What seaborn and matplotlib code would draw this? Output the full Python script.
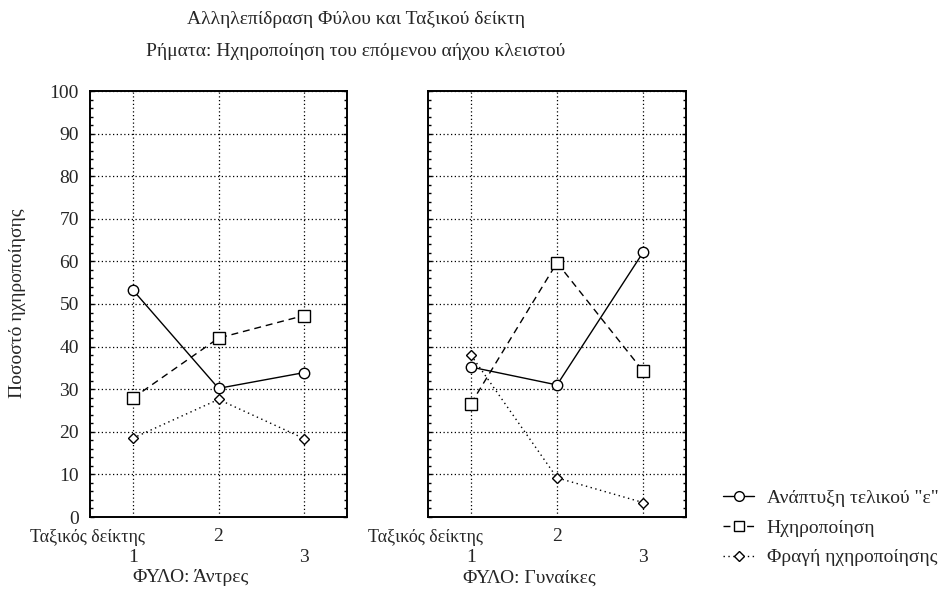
import matplotlib
matplotlib.use("Agg")
import matplotlib.pyplot as plt
from matplotlib.lines import Line2D
from matplotlib.ticker import MultipleLocator, FixedLocator
import pandas as pd
import seaborn as sns

# Class index positions and percentage values per gender
classes = [1, 2, 3]
class_tick_labels = ["1", "2", "3"]
series_names = ['Ανάπτυξη τελικού "ε"', "Ηχηροποίηση", "Φραγή ηχηροποίησης"]

men_epenthesis = [53.3, 30.2, 33.9]
men_voicing = [27.9, 42.0, 47.3]
men_blocking = [18.5, 27.6, 18.4]

women_epenthesis = [35.2, 31.0, 62.1]
women_voicing = [26.6, 59.7, 34.3]
women_blocking = [38.0, 9.2, 3.4]

panel_titles = ["ΦΥΛΟ: Άντρες", "ΦΥΛΟ: Γυναίκες"]
axis_caption = "Ταξικός δείκτης"

sns.set_theme(style="white")
plt.rcParams["font.family"] = ["Liberation Serif", "DejaVu Serif"]
FS = 14

styles = [
    dict(marker="o", linestyle="-", ms=7.5),
    dict(marker="s", linestyle=(0, (5, 3.5)), ms=8),
    dict(marker="D", linestyle=(0, (1, 2.5)), ms=5.5),
]

panels = [
    [men_epenthesis, men_voicing, men_blocking],
    [women_epenthesis, women_voicing, women_blocking],
]

fig = plt.figure(figsize=(9.39, 5.89), dpi=100)
W, H = 939, 589
axes_px = [(90, 91, 347, 517), (428, 91, 686, 517)]

for i, (box, values) in enumerate(zip(axes_px, panels)):
    x0, y0, x1, y1 = box
    ax = fig.add_axes([x0 / W, 1 - y1 / H, (x1 - x0) / W, (y1 - y0) / H])
    for name, vals, st in zip(series_names, values, styles):
        df = pd.DataFrame({"class": classes, "pct": vals})
        sns.lineplot(data=df, x="class", y="pct", ax=ax, color="black",
                     marker=st["marker"], linestyle=st["linestyle"],
                     markersize=st["ms"], markerfacecolor="white",
                     markeredgecolor="black", markeredgewidth=1.0,
                     linewidth=1.0, legend=False, zorder=3)
    ax.set_xlim(0.5, 3.5)
    ax.set_ylim(0, 100)
    ax.yaxis.set_major_locator(MultipleLocator(10))
    ax.yaxis.set_minor_locator(MultipleLocator(2))
    # staggered class labels: odd classes on the lower row, the middle one above
    ax.xaxis.set_major_locator(FixedLocator([classes[0], classes[2]]))
    ax.set_xticklabels([class_tick_labels[0], class_tick_labels[2]])
    ax.xaxis.set_minor_locator(FixedLocator([classes[1]]))
    ax.set_xticklabels([class_tick_labels[1]], minor=True)
    ax.tick_params(axis="x", which="major", length=0, pad=23, labelsize=FS)
    ax.tick_params(axis="x", which="minor", length=0, pad=8, labelsize=FS)
    ax.tick_params(axis="y", which="both", direction="in", left=True, right=True,
                   length=3, width=1, color="black", labelsize=FS, pad=8)
    ax.tick_params(axis="y", which="minor", length=2.5)
    if i == 1:
        ax.tick_params(axis="y", labelleft=False)
    ax.grid(True, which="both", axis="x", color="black", linestyle=(0, (1, 2)),
            linewidth=0.9)
    ax.grid(True, which="major", axis="y", color="black", linestyle=(0, (1, 2)),
            linewidth=0.9)
    for s in ax.spines.values():
        s.set_visible(True)
        s.set_color("black")
        s.set_linewidth(1.4)
    ax.set_xlabel("")
    ax.set_ylabel("")
    # class-index caption to the left of the first tick, and the panel label below
    fig.text((x0 + 55) / W, 1 - 537 / H, axis_caption, ha="right", va="center",
             fontsize=13)
    fig.text((x0 + 101) / W, 1 - 578 / H, panel_titles[i], ha="center",
             va="center", fontsize=FS)

fig.text(18 / W, 1 - 303 / H, "Ποσοστό ηχηροποίησης", rotation=90,
         ha="center", va="center", fontsize=FS)
fig.text(356 / W, 1 - 20 / H, "Αλληλεπίδραση Φύλου και Ταξικού δείκτη",
         ha="center", va="center", fontsize=FS)
fig.text(356 / W, 1 - 52 / H, "Ρήματα: Ηχηροποίηση του επόμενου αήχου κλειστού",
         ha="center", va="center", fontsize=FS)

handles = [Line2D([], [], color="black", marker=st["marker"], linestyle=st["linestyle"],
                  markersize=st["ms"] - 0.5, markerfacecolor="white", linewidth=1.0)
           for st in styles]
fig.legend(handles, series_names, loc="center left",
           bbox_to_anchor=(723 / W, 1 - 528 / H), frameon=False,
           handlelength=1.6, handletextpad=0.65, labelspacing=0.62, fontsize=FS,
           borderpad=0, borderaxespad=0)

fig.savefig("out.png", dpi=100)
